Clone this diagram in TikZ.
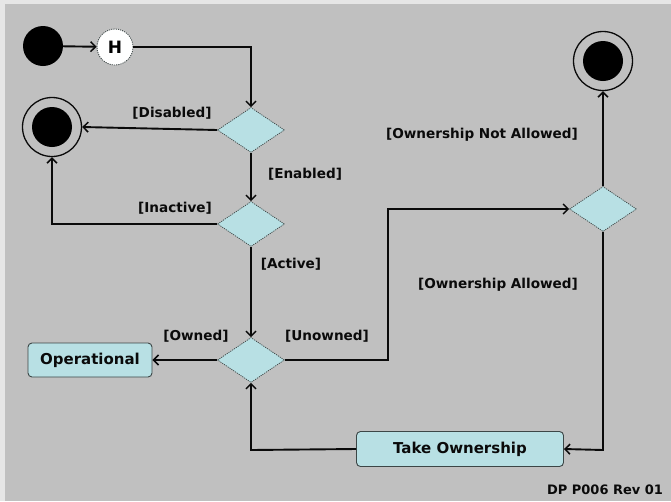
\documentclass[tikz,border=0pt]{standalone}
\usepackage{fontspec}
\setmainfont{DejaVu Sans}
\usetikzlibrary{shapes.geometric,arrows.meta}
\definecolor{canvas}{RGB}{192,192,192}
\definecolor{rim}{RGB}{230,230,230}
\definecolor{pale}{RGB}{184,224,228}
\definecolor{ink}{RGB}{10,10,10}
\definecolor{edge}{RGB}{60,70,70}
\tikzset{
  flow/.style={draw=ink, line width=1.9pt, -{Straight Barb[length=5pt,width=10pt,line width=1.5pt]}},
  choice/.style={diamond, fill=pale, draw=edge, line width=0.7pt, dash pattern=on 1.2pt off 1pt,
    minimum width=67pt, minimum height=45pt, inner sep=0pt},
  activity/.style={rectangle, rounded corners=4pt, fill=pale, draw=edge, line width=0.9pt,
    font=\fontsize{15}{17}\selectfont\bfseries, text=ink, inner sep=0pt},
  guard/.style={font=\fontsize{13.6}{15}\selectfont\bfseries, text=ink, inner sep=0pt},
  startdot/.style={circle, fill=black, minimum size=40pt, inner sep=0pt},
  endring/.style={circle, draw=ink, line width=1.3pt, minimum size=59pt, inner sep=0pt},
  enddot/.style={circle, fill=black, minimum size=40pt, inner sep=0pt},
}
\begin{document}
\begin{tikzpicture}[x=1pt,y=-1pt]
\useasboundingbox (0,0) rectangle (671,501);
% frame and canvas
\fill[rim] (0,0) rectangle (671,501);
\fill[canvas] (5,4) rectangle (671,501);

% states
\node[startdot] (init) at (43,46) {};
\node[circle, fill=white, draw=edge, line width=0.8pt, dash pattern=on 1.2pt off 1pt,
  minimum size=36pt, inner sep=0pt, font=\fontsize{17}{18}\selectfont\bfseries] (hist) at (115,47) {H};

\node[endring] (endA) at (52,127) {};
\node[enddot] at (endA) {};
\node[endring] (endB) at (603,61) {};
\node[enddot] at (endB) {};

\node[choice] (d1) at (251,130) {};
\node[choice] (d2) at (251,224) {};
\node[choice] (d3) at (251,360) {};
\node[choice] (d4) at (603,209) {};

\node[activity, minimum width=124pt, minimum height=34pt] (oper) at (90,360) {Operational};
\node[activity, minimum width=207pt, minimum height=35pt] (take) at (460,449) {Take Ownership};

% transitions
\draw[flow] (init) -- (hist);
\draw[flow] (hist.east) -- (251,47) -- (d1.north);
\draw[flow] (d1.west) -- (endA.east);
\draw[flow] (d1.south) -- (d2.north);
\draw[flow] (d2.west) -- (52,224) -- (endA.south);
\draw[flow] (d2.south) -- (d3.north);
\draw[flow] (d3.west) -- (oper.east);
\draw[flow] (d3.east) -- (388,360) -- (388,209) -- (d4.west);
\draw[flow] (d4.north) -- (endB.south);
\draw[flow] (d4.south) -- (603,450) -- (take.east);
\draw[flow] (take.west) -- (251,450) -- (d3.south);

% guards
\node[guard] (gDis) at (172,113) {[Disabled]};
\node[guard] (gEn) at (305,174) {[Enabled]};
\node[guard] (gIn) at (175,208) {[Inactive]};
\node[guard] (gAct) at (291,264) {[Active]};
\node[guard] (gOwn) at (196,336) {[Owned]};
\node[guard] (gUn) at (327,336) {[Unowned]};
\node[guard] (gNot) at (482,135) {[Ownership Not Allowed]};
\node[guard] (gAll) at (498,285) {[Ownership Allowed]};

\node[font=\fontsize{13}{14}\selectfont\bfseries, text=ink, inner sep=0pt] (tag) at (605,490) {DP P006 Rev 01};
\end{tikzpicture}
\end{document}
